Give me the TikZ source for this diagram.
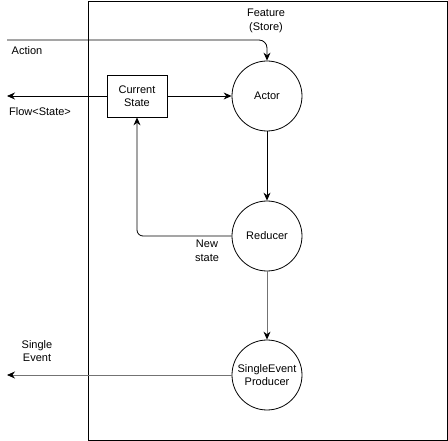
\documentclass[tikz,border=0pt]{standalone}
\usepackage{fontspec}
\setmainfont{Liberation Sans}
\usetikzlibrary{arrows.meta}
\usetikzlibrary{calc}

\tikzset{
  stage/.style={circle,draw,line width=0.8pt,minimum size=70pt,inner sep=0pt,align=center},
  holder/.style={draw,line width=0.8pt,minimum width=60pt,minimum height=42pt,align=center},
  label/.style={align=center,inner sep=0pt},
  flow/.style={line width=0.8pt,-{Stealth[length=8pt,width=7pt]}},
  gflow/.style={flow,draw=black!55,-{Stealth[length=8pt,width=7pt,color=black]}}
}

\begin{document}
\begin{tikzpicture}[x=1pt,y=-1pt,font=\fontsize{11}{13.5}\selectfont]
                    \useasboundingbox (0,0) rectangle (448,441);%

                    % Drawing feature frame
                    \draw [line width=0.8pt] (88,1) rectangle (447,440);%
                    \node [label] (feature) at (266,21) {Feature\\(Store)};%

                    % Marking actor, reducer and producer by circle
                    \node [stage] (actor) at (267,96) {Actor};%
                    \node [stage] (reducer) at (267,236) {Reducer};%
                    \node [stage] (producer) at (267,375) {SingleEvent\\Producer};%

                    % Marking current state by rectangle
                    \node [holder] (current) at (137,96) {Current\\State};%

                    % Outer ends
                    \coordinate (actionin) at (7,40);%
                    \coordinate (flowout) at (7,96);%
                    \coordinate (eventout) at (7,375);%

                    % Drawing segment action actor
                    \draw [flow,rounded corners=8pt] (actionin) -- (actionin -| actor.north) -- (actor.north);%
                    \node [label] (action) at (27,51) {Action};%

                    % Drawing segment current flow
                    \draw [flow] (current.west) -- (flowout);%
                    \node [label] (flowlabel) at (40,112) {Flow<State>};%

                    % Drawing segment current actor
                    \draw [flow] (current.east) -- (actor.west);%

                    % Drawing segment actor reducer
                    \draw [flow] (actor.south) -- (reducer.north);%

                    % Drawing segment reducer current
                    \draw [flow,rounded corners=6pt] (reducer.west) -| (current.south);%
                    \node [label] (newstate) at (207,251) {New\\state};%

                    % Changing color to gray
                    % Drawing segment reducer producer
                    \draw [gflow] (reducer.south) -- (producer.north);%

                    % Drawing segment producer event
                    \draw [gflow] (producer.west) -- (eventout);%
                    \node [label] (eventlabel) at (37,351) {Single\\Event};%
\end{tikzpicture}
\end{document}
